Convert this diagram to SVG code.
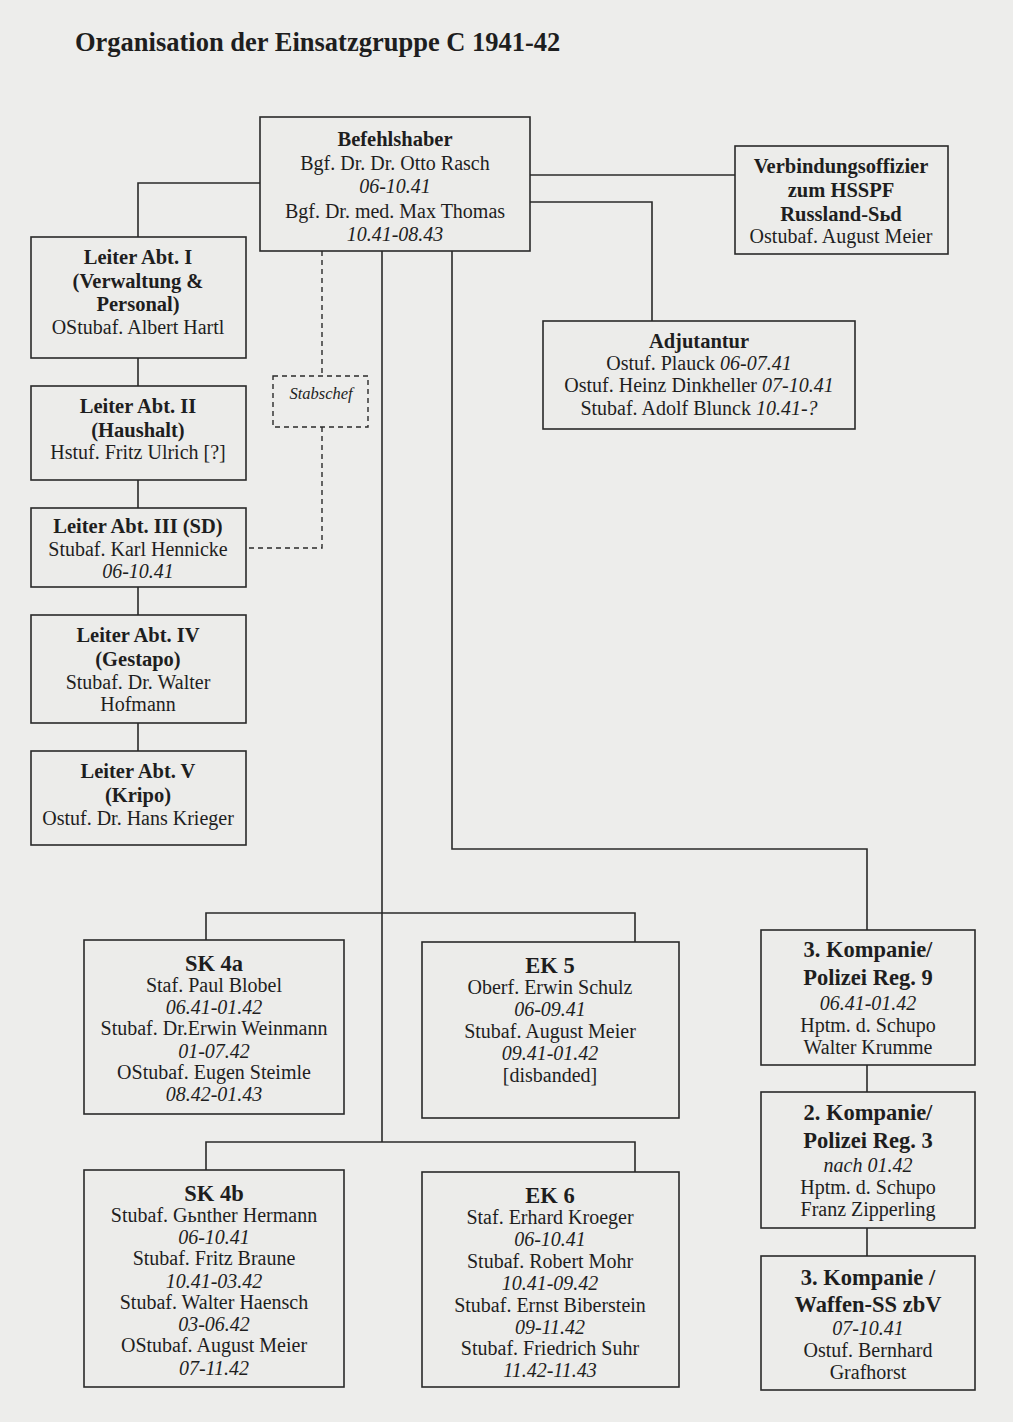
<svg xmlns="http://www.w3.org/2000/svg" width="1013" height="1422" viewBox="0 0 1013 1422">
<style>
.bg{fill:#ededeb}
.box{fill:#ececea;stroke:#2a2a2a;stroke-width:1.6}
.dbox{fill:none;stroke:#2a2a2a;stroke-width:1.4;stroke-dasharray:5,4}
.ln{fill:none;stroke:#2a2a2a;stroke-width:1.6}
.dl{fill:none;stroke:#2a2a2a;stroke-width:1.4;stroke-dasharray:5,4}
text{font-family:"Liberation Serif","Times New Roman",serif;fill:#1e1e1e;text-anchor:middle;font-size:20px}
.b{font-weight:bold;font-size:20.5px}
.h{font-weight:bold;font-size:22.5px}
.i{font-style:italic;font-size:20px}
.t{font-weight:bold;font-size:26.5px;text-anchor:start}
</style>
<rect class="bg" x="0" y="0" width="1013" height="1422"/>
<text class="t" x="75" y="51">Organisation der Einsatzgruppe C 1941-42</text>

<g id="connectors">
<path class="ln" d="M260,183 H138 V237"/>
<path class="ln" d="M530,175 H735"/>
<path class="ln" d="M530,202 H652 V321"/>
<path class="ln" d="M138,358 V386 M138,480 V508 M138,587 V615 M138,723 V751"/>
<path class="dl" d="M322,251 V376 M322,427 V548 H246"/>
<path class="ln" d="M382,251 V1142"/>
<path class="ln" d="M206,940 V913 H635 V943"/>
<path class="ln" d="M206,1170 V1142 H635 V1172"/>
<path class="ln" d="M452,251 V849 H867 V930"/>
<path class="ln" d="M867,1065 V1092 M867,1228 V1256"/>
</g>

<g id="befehlshaber">
<rect class="box" x="260" y="117" width="270" height="134"/>
<text class="b" x="395" y="146">Befehlshaber</text>
<text x="395" y="170">Bgf. Dr. Dr. Otto Rasch</text>
<text class="i" x="395" y="193">06-10.41</text>
<text x="395" y="218">Bgf. Dr. med. Max Thomas</text>
<text class="i" x="395" y="241">10.41-08.43</text>
</g>

<g id="verbindung">
<rect class="box" x="735" y="146" width="213" height="108"/>
<text class="b" x="841" y="173">Verbindungsoffizier</text>
<text class="b" x="841" y="197">zum HSSPF</text>
<text class="b" x="841" y="221">Russland-Sьd</text>
<text x="841" y="243">Ostubaf. August Meier</text>
</g>

<g id="adjutantur">
<rect class="box" x="543" y="321" width="312" height="108"/>
<text class="b" x="699" y="348">Adjutantur</text>
<text x="699" y="370">Ostuf. Plauck <tspan class="i">06-07.41</tspan></text>
<text x="699" y="392">Ostuf. Heinz Dinkheller <tspan class="i">07-10.41</tspan></text>
<text x="699" y="415">Stubaf. Adolf Blunck <tspan class="i">10.41-?</tspan></text>
</g>

<g id="stabschef">
<rect class="dbox" x="273" y="376" width="95" height="51"/>
<text class="i" x="321" y="399" style="font-size:16.5px">Stabschef</text>
</g>

<g id="abt1">
<rect class="box" x="31" y="237" width="215" height="121"/>
<text class="b" x="138" y="264">Leiter Abt. I</text>
<text class="b" x="138" y="288">(Verwaltung &amp;</text>
<text class="b" x="138" y="311">Personal)</text>
<text x="138" y="334">OStubaf. Albert Hartl</text>
</g>

<g id="abt2">
<rect class="box" x="31" y="386" width="215" height="94"/>
<text class="b" x="138" y="413">Leiter Abt. II</text>
<text class="b" x="138" y="437">(Haushalt)</text>
<text x="138" y="459">Hstuf. Fritz Ulrich [?]</text>
</g>

<g id="abt3">
<rect class="box" x="31" y="508" width="215" height="79"/>
<text class="b" x="138" y="533">Leiter Abt. III (SD)</text>
<text x="138" y="556">Stubaf. Karl Hennicke</text>
<text class="i" x="138" y="578">06-10.41</text>
</g>

<g id="abt4">
<rect class="box" x="31" y="615" width="215" height="108"/>
<text class="b" x="138" y="642">Leiter Abt. IV</text>
<text class="b" x="138" y="666">(Gestapo)</text>
<text x="138" y="689">Stubaf. Dr. Walter</text>
<text x="138" y="711">Hofmann</text>
</g>

<g id="abt5">
<rect class="box" x="31" y="751" width="215" height="94"/>
<text class="b" x="138" y="778">Leiter Abt. V</text>
<text class="b" x="138" y="802">(Kripo)</text>
<text x="138" y="825">Ostuf. Dr. Hans Krieger</text>
</g>

<g id="sk4a">
<rect class="box" x="84" y="940" width="260" height="174"/>
<text class="h" x="214" y="971">SK 4a</text>
<text x="214" y="992">Staf. Paul Blobel</text>
<text class="i" x="214" y="1014">06.41-01.42</text>
<text x="214" y="1035">Stubaf. Dr.Erwin Weinmann</text>
<text class="i" x="214" y="1058">01-07.42</text>
<text x="214" y="1079">OStubaf. Eugen Steimle</text>
<text class="i" x="214" y="1101">08.42-01.43</text>
</g>

<g id="ek5">
<rect class="box" x="422" y="942" width="257" height="176"/>
<text class="h" x="550" y="973">EK 5</text>
<text x="550" y="994">Oberf. Erwin Schulz</text>
<text class="i" x="550" y="1016">06-09.41</text>
<text x="550" y="1038">Stubaf. August Meier</text>
<text class="i" x="550" y="1060">09.41-01.42</text>
<text x="550" y="1082">[disbanded]</text>
</g>

<g id="sk4b">
<rect class="box" x="84" y="1170" width="260" height="217"/>
<text class="h" x="214" y="1201">SK 4b</text>
<text x="214" y="1222">Stubaf. Gьnther Hermann</text>
<text class="i" x="214" y="1244">06-10.41</text>
<text x="214" y="1265">Stubaf. Fritz Braune</text>
<text class="i" x="214" y="1288">10.41-03.42</text>
<text x="214" y="1309">Stubaf. Walter Haensch</text>
<text class="i" x="214" y="1331">03-06.42</text>
<text x="214" y="1352">OStubaf. August Meier</text>
<text class="i" x="214" y="1375">07-11.42</text>
</g>

<g id="ek6">
<rect class="box" x="422" y="1172" width="257" height="215"/>
<text class="h" x="550" y="1203">EK 6</text>
<text x="550" y="1224">Staf. Erhard Kroeger</text>
<text class="i" x="550" y="1246">06-10.41</text>
<text x="550" y="1268">Stubaf. Robert Mohr</text>
<text class="i" x="550" y="1290">10.41-09.42</text>
<text x="550" y="1312">Stubaf. Ernst Biberstein</text>
<text class="i" x="550" y="1334">09-11.42</text>
<text x="550" y="1355">Stubaf. Friedrich Suhr</text>
<text class="i" x="550" y="1377">11.42-11.43</text>
</g>

<g id="kompanie3pr9">
<rect class="box" x="761" y="930" width="214" height="135"/>
<text class="h" x="868" y="957">3. Kompanie/</text>
<text class="h" x="868" y="985">Polizei Reg. 9</text>
<text class="i" x="868" y="1010">06.41-01.42</text>
<text x="868" y="1032">Hptm. d. Schupo</text>
<text x="868" y="1054">Walter Krumme</text>
</g>

<g id="kompanie2pr3">
<rect class="box" x="761" y="1092" width="214" height="136"/>
<text class="h" x="868" y="1120">2. Kompanie/</text>
<text class="h" x="868" y="1148">Polizei Reg. 3</text>
<text class="i" x="868" y="1172">nach 01.42</text>
<text x="868" y="1194">Hptm. d. Schupo</text>
<text x="868" y="1216">Franz Zipperling</text>
</g>

<g id="kompanie3waffen">
<rect class="box" x="761" y="1256" width="214" height="134"/>
<text class="h" x="868" y="1285">3. Kompanie /</text>
<text class="h" x="868" y="1312">Waffen-SS zbV</text>
<text class="i" x="868" y="1335">07-10.41</text>
<text x="868" y="1357">Ostuf. Bernhard</text>
<text x="868" y="1379">Grafhorst</text>
</g>
</svg>
